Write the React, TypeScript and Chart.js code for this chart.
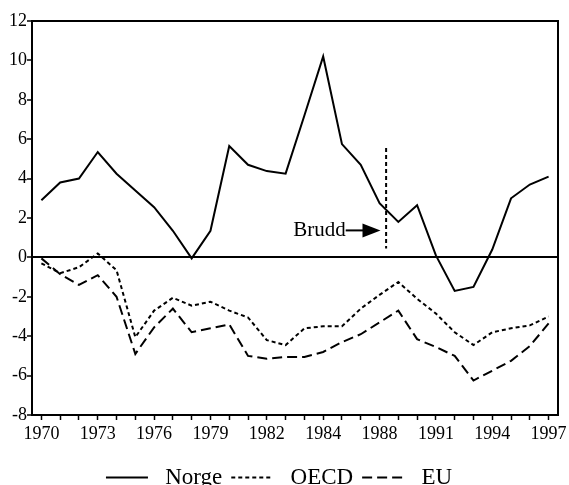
import React, { useEffect, useRef } from 'react';
import { Chart, registerables } from 'chart.js';

Chart.register(...registerables);

const years = [
  1970, 1971, 1972, 1973, 1974, 1975, 1976, 1977, 1978, 1979,
  1980, 1981, 1982, 1983, 1984, 1985, 1986, 1987, 1988, 1989,
  1990, 1991, 1992, 1993, 1994, 1995, 1996, 1997,
];

const norge = [
  2.9, 3.8, 4.0, 5.35, 4.25, 3.4, 2.55, 1.35, -0.05, 1.35,
  5.65, 4.7, 4.38, 4.25, 7.2, 10.2, 5.75, 4.7, 2.75, 1.8,
  2.65, 0.1, -1.7, -1.5, 0.4, 3.0, 3.7, 4.1,
];

const oecd = [
  -0.3, -0.8, -0.5, 0.2, -0.65, -4.05, -2.7, -2.05, -2.45, -2.25,
  -2.7, -3.05, -4.2, -4.45, -3.6, -3.5, -3.5, -2.6, -1.9, -1.25,
  -2.1, -2.85, -3.8, -4.45, -3.8, -3.6, -3.45, -3.0,
];

const eu = [
  -0.05, -0.85, -1.4, -0.9, -2.0, -4.9, -3.55, -2.6, -3.8, -3.6,
  -3.4, -5.0, -5.15, -5.05, -5.05, -4.8, -4.3, -3.9, -3.3, -2.7,
  -4.15, -4.55, -5.0, -6.25, -5.75, -5.25, -4.5, -3.35,
];

// positions of the x tick labels (years) and the texts printed there
const labeledYears = [1970, 1973, 1976, 1979, 1982, 1985, 1988, 1991, 1994, 1997];
const xTickLabels = ['1970', '1973', '1976', '1979', '1982', '1984', '1988', '1991', '1994', '1997'];

const yMin = -8;
const yMax = 12;
const yStep = 2;

// "Brudd" annotation (data coordinates)
const breakYear = 1988.35;
const breakFrom = 0.45;
const breakTo = 5.55;
const bruddText = 'Brudd';
const bruddTextEndYear = 1986.2;
const bruddY = 1.37;
const arrowTipYear = 1988.05;

const FONT = '"Liberation Serif", "Times New Roman", Times, serif';

const framePlugin = {
  id: 'frame',
  afterDatasetsDraw(chart: any) {
    const { ctx, chartArea, scales } = chart;
    const x = scales.x;
    const y = scales.y;
    ctx.save();
    // Brudd vertical dotted line
    ctx.strokeStyle = '#000';
    ctx.lineWidth = 2;
    ctx.setLineDash([4, 3]);
    ctx.beginPath();
    const bx = x.getPixelForValue(breakYear);
    ctx.moveTo(bx, y.getPixelForValue(breakTo));
    ctx.lineTo(bx, y.getPixelForValue(breakFrom));
    ctx.stroke();
    ctx.setLineDash([]);
    // text
    ctx.fillStyle = '#000';
    ctx.font = `21px ${FONT}`;
    ctx.textAlign = 'right';
    ctx.textBaseline = 'middle';
    const tx = x.getPixelForValue(bruddTextEndYear);
    const ty = y.getPixelForValue(bruddY);
    ctx.fillText(bruddText, tx, ty);
    // arrow
    const tip = x.getPixelForValue(arrowTipYear);
    ctx.lineWidth = 2;
    ctx.beginPath();
    ctx.moveTo(tx, ty);
    ctx.lineTo(tip - 17, ty);
    ctx.stroke();
    ctx.beginPath();
    ctx.moveTo(tip - 18, ty - 7);
    ctx.lineTo(tip, ty);
    ctx.lineTo(tip - 18, ty + 7);
    ctx.closePath();
    ctx.fill();
    // frame
    ctx.lineWidth = 2;
    ctx.strokeRect(chartArea.left, chartArea.top, chartArea.right - chartArea.left, chartArea.bottom - chartArea.top);
    ctx.restore();
  },
};

export default function App() {
  const ref = useRef<HTMLCanvasElement>(null);

  useEffect(() => {
    if (!ref.current) return;
    const chart = new Chart(ref.current, {
      type: 'line',
      data: {
        labels: years,
        datasets: [
          {
            label: 'Norge',
            data: norge,
            borderColor: '#000',
            backgroundColor: '#000',
            borderWidth: 2,
            pointRadius: 0,
            tension: 0,
          },
          {
            label: 'OECD',
            data: oecd,
            borderColor: '#000',
            backgroundColor: '#000',
            borderWidth: 2,
            borderDash: [4, 3],
            pointRadius: 0,
            tension: 0,
          },
          {
            label: 'EU',
            data: eu,
            borderColor: '#000',
            backgroundColor: '#000',
            borderWidth: 2,
            borderDash: [10, 5],
            pointRadius: 0,
            tension: 0,
          },
        ],
      },
      options: {
        responsive: false,
        animation: false,
        events: [],
        layout: { padding: { top: 21, right: 11, left: 0, bottom: -14 } },
        plugins: {
          tooltip: { enabled: false },
          title: { display: false },
          legend: {
            position: 'bottom',
            labels: {
              usePointStyle: true,
              pointStyle: 'line',
              pointStyleWidth: 42,
              boxWidth: 42,
              boxHeight: 10,
              padding: 9,
              color: '#000',
              font: { family: FONT, size: 23 },
              generateLabels: (chart: any) => {
                const items = Chart.defaults.plugins.legend.labels.generateLabels(chart);
                return items.map((it: any) => {
                  const ds = chart.data.datasets[it.datasetIndex];
                  return {
                    ...it,
                    text: ' ' + it.text,
                    lineDash: ds.borderDash || [],
                    lineWidth: 2,
                    strokeStyle: '#000',
                    fillStyle: '#000',
                  };
                });
              },
            },
          },
        },
        scales: {
          x: {
            type: 'linear',
            min: 1969.5,
            max: 1997.5,
            afterBuildTicks: (scale: any) => {
              scale.ticks = years.map((v) => ({ value: v }));
            },
            afterFit: (scale: any) => {
              scale.height = 42;
              scale.paddingLeft = 0;
              scale.paddingRight = 0;
            },
            grid: {
              drawOnChartArea: false,
              drawTicks: true,
              tickLength: 5,
              tickColor: '#000',
              tickWidth: 1.5,
            },
            border: { display: true, color: '#000', width: 2 },
            ticks: {
              autoSkip: false,
              maxRotation: 0,
              padding: 3,
              color: '#000',
              font: { family: FONT, size: 18 },
              callback: (value: any) => {
                const i = labeledYears.indexOf(Number(value));
                return i >= 0 ? xTickLabels[i] : '';
              },
            },
          },
          y: {
            min: yMin,
            max: yMax,
            afterFit: (scale: any) => {
              scale.width = 32;
            },
            grid: {
              drawOnChartArea: true,
              drawTicks: true,
              tickLength: 5,
              tickColor: '#000',
              tickWidth: 1.5,
              color: (c: any) => (c.tick && c.tick.value === 0 ? '#000' : 'rgba(0,0,0,0)'),
              lineWidth: (c: any) => (c.tick && c.tick.value === 0 ? 2 : 0),
            },
            border: { display: true, color: '#000', width: 2 },
            ticks: {
              stepSize: yStep,
              padding: 0,
              color: '#000',
              font: { family: FONT, size: 18 },
              callback: (value: any) => String(value),
            },
          },
        },
      },
      plugins: [framePlugin],
    });
    return () => chart.destroy();
  }, []);

  return (
    <div style={{ position: 'fixed', left: 0, top: 0, width: 569, height: 485, background: '#fff' }}>
      <canvas ref={ref} width={569} height={485} style={{ display: 'block' }} />
    </div>
  );
}
